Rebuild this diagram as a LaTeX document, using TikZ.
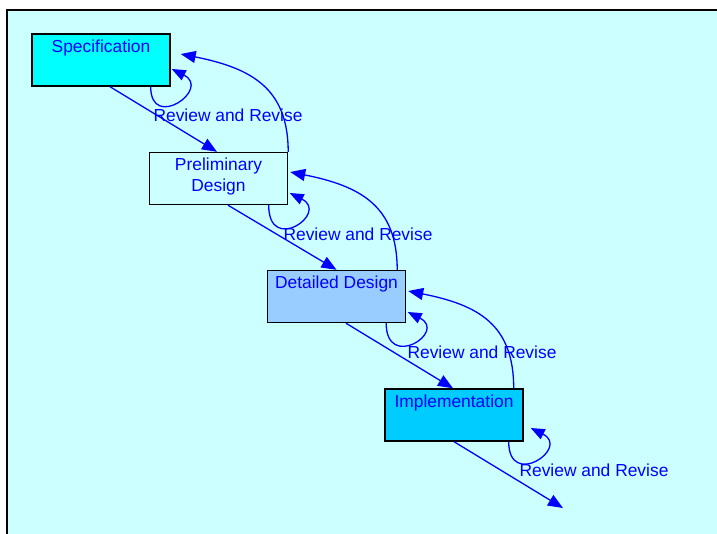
\documentclass[tikz,border=0pt]{standalone}
\usepackage{fontspec}
\setmainfont{Liberation Sans}
\usetikzlibrary{arrows.meta}
\definecolor{canvas}{HTML}{CCFFFF}
\definecolor{specfill}{HTML}{00FFFF}
\definecolor{prelimfill}{HTML}{CCFFFF}
\definecolor{detailfill}{HTML}{99CCFF}
\definecolor{implfill}{HTML}{00CCFF}
\definecolor{ink}{HTML}{0000FF}

\begin{document}
\begin{tikzpicture}[x=1pt,y=-1pt,
  every node/.style={font=\fontsize{17.4}{21}\selectfont, text=ink},
  phase/.style={draw=black, line width=1.4pt, rectangle,
    minimum width=138pt, minimum height=52pt, inner sep=0pt},
  caption/.style={label={[anchor=north, yshift=-6pt, inner sep=0pt, align=center]north:#1}},
  flow/.style={draw=ink, line width=1.3pt, -{Triangle[length=15pt,width=12pt]}},
  loopflow/.style={draw=ink, line width=1.3pt, -{Triangle[length=14pt,width=11pt]}},
  note/.style={inner sep=0pt}
]
\useasboundingbox (0,0) rectangle (717,533);

% sheet with its frame
\fill[canvas] (7,10) rectangle (720,536);
\draw[black, line width=2pt] (7,536) -- (7,10) -- (720,10);

% phases
\node[phase, fill=specfill,   caption=Specification]        (spec)   at (101,60)    {};
\node[phase, fill=prelimfill, caption={Preliminary\\Design}] (prelim) at (218.5,178.5) {};
\node[phase, fill=detailfill, caption={Detailed Design}]    (detail) at (336.5,296.5) {};
\node[phase, fill=implfill,   caption=Implementation]       (impl)   at (454,415)   {};
\coordinate (tail) at (563,508);

% forward flow
\draw[flow] ([xshift=9pt]spec.south)     -- ([xshift=-1.5pt]prelim.north);
\draw[flow] ([xshift=9.5pt]prelim.south) -- (detail.north);
\draw[flow] ([xshift=9.5pt]detail.south) -- ([xshift=-1pt]impl.north);
\draw[flow] (impl.south) -- (tail);

% feedback to the previous phase
\draw[flow] (prelim.north east)
  .. controls +(0,-64) and +(70,14) .. ([xshift=10pt,yshift=6pt]spec.east);
\draw[flow] ([xshift=-9pt]detail.north east)
  .. controls +(0,-64) and +(70,14) .. ([xshift=2pt,yshift=6.5pt]prelim.east);
\draw[flow] ([xshift=-10pt]impl.north east)
  .. controls +(0,-64) and +(70,14) .. ([xshift=2pt,yshift=5.5pt]detail.east);

% review loops
\draw[loopflow] ([xshift=-20pt]spec.south east)
  .. controls +(0,45) and +(40,20) .. ([xshift=1pt,yshift=-9pt]spec.east);
\draw[loopflow] ([xshift=-19.5pt]prelim.south east)
  .. controls +(0,50) and +(40,20) .. ([xshift=1.5pt,yshift=-14.5pt]prelim.east);
\draw[loopflow] ([xshift=-20pt]detail.south east)
  .. controls +(0,48) and +(40,20) .. ([xshift=1.5pt,yshift=-15.5pt]detail.east);
\draw[loopflow] ([xshift=-15pt]impl.south east)
  .. controls +(0,48) and +(40,20) .. ([xshift=7pt,yshift=-13pt]impl.east);

% loop labels
\node[note] (r1) at (228,115) {Review and Revise};
\node[note] (r2) at (358,234) {Review and Revise};
\node[note] (r3) at (482,352) {Review and Revise};
\node[note] (r4) at (594,470) {Review and Revise};
\end{tikzpicture}
\end{document}
